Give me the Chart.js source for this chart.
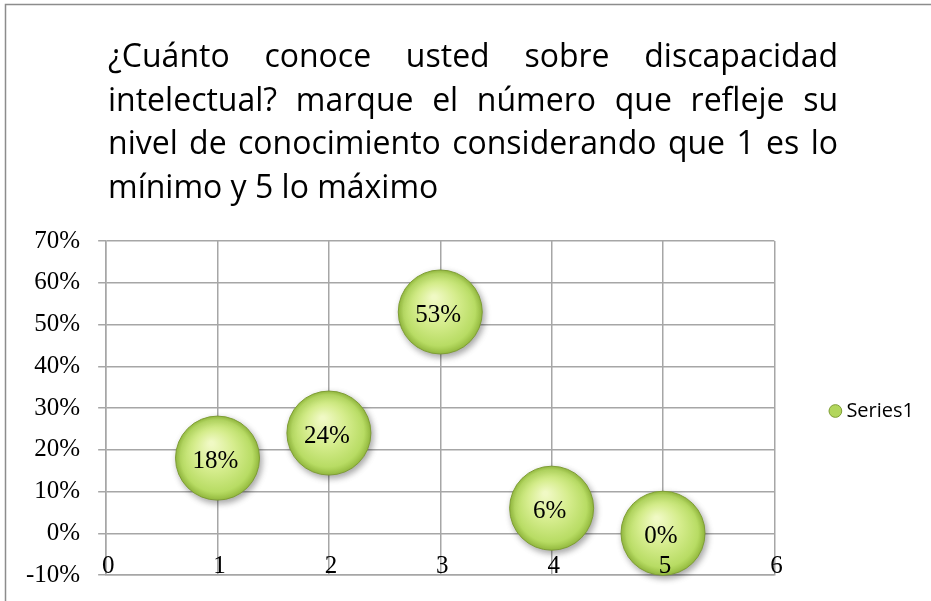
<!DOCTYPE html>
<html>
<head>
<meta charset="utf-8">
<script src="https://cdn.jsdelivr.net/npm/chart.js@4/dist/chart.umd.min.js"></script>
<style>
  html, body { margin: 0; padding: 0; background: #fff; }
  #wrap { width: 931px; height: 601px; }
</style>
</head>
<body>
<div id="wrap"><canvas id="chart" width="931" height="601"></canvas></div>
<script>
// chart data
var titleLines = [
    "¿Cuánto conoce usted sobre discapacidad",
    "intelectual? marque el número que refleje su",
    "nivel de conocimiento considerando que 1 es lo",
    "mínimo y 5 lo máximo"
];
var seriesName = "Series1";
var xValues = [1, 2, 3, 4, 5];
var yValues = [0.18, 0.24, 0.53, 0.06, 0.00];
var bubbleSizes = [1, 1, 1, 1, 1];
var pointLabels = ["18%", "24%", "53%", "6%", "0%"];
var xTicks = [0, 1, 2, 3, 4, 5, 6];
var yTicks = [-0.1, 0, 0.1, 0.2, 0.3, 0.4, 0.5, 0.6, 0.7];

var points = [];
for (let i = 0; i < xValues.length; i++) {
    points.push({ x: xValues[i], y: yValues[i], r: 42 * Math.sqrt(bubbleSizes[i]) });
}

function bubbleFill(context)
{
    var chart = context.chart;
    var raw = context.raw;
    if (!raw || !chart.scales.x || !chart.scales.y) return "#c4e274";
    var px = chart.scales.x.getPixelForValue(raw.x);
    var py = chart.scales.y.getPixelForValue(raw.y);
    var r = raw.r;
    if (!isFinite(px) || !isFinite(py) || !isFinite(r)) return "#c4e274";
    var g = chart.ctx.createRadialGradient(px - r * 0.15, py - r * 0.35, r * 0.05, px, py, r);
    g.addColorStop(0, "#f0f9c4");
    g.addColorStop(0.45, "#d6ed8e");
    g.addColorStop(0.85, "#b8dc64");
    g.addColorStop(1, "#96bd40");
    return g;
}

// white page with thin grey frame
var framePlugin = {
    id: "frame",
    beforeDraw(chart) {
        var ctx = chart.ctx;
        ctx.save();
        ctx.fillStyle = "#fff";
        ctx.fillRect(0, 0, chart.width, chart.height);
        ctx.strokeStyle = "#8c8c8c";
        ctx.lineWidth = 1.5;
        ctx.strokeRect(5.5, 4.5, 1000, 1000);
        ctx.restore();
    }
};

// justified title (Chart.js title cannot justify)
var titlePlugin = {
    id: "justTitle",
    afterDraw(chart) {
        var ctx = chart.ctx;
        var left = 108, right = 838, top = 67, lh = 43.5;
        ctx.save();
        ctx.font = "32px 'Open Sans'";
        ctx.fillStyle = "#000";
        ctx.textBaseline = "alphabetic";
        for (let i = 0; i < titleLines.length; i++) {
            var y = top + i * lh;
            var words = titleLines[i].split(" ");
            if (i == titleLines.length - 1 || words.length < 2) {
                ctx.textAlign = "left";
                ctx.fillText(titleLines[i], left, y);
                continue;
            }
            var total = 0;
            for (let w of words) total += ctx.measureText(w).width;
            var gap = (right - left - total) / (words.length - 1);
            var x = left;
            for (let w of words) {
                ctx.fillText(w, x, y);
                x += ctx.measureText(w).width + gap;
            }
        }
        ctx.restore();
    }
};

// x labels sit just above the bottom axis line, as in the original
var xLabelPlugin = {
    id: "xInsideLabels",
    afterDraw(chart) {
        var ctx = chart.ctx;
        var xs = chart.scales.x;
        var base = chart.chartArea.bottom - 2;
        ctx.save();
        ctx.font = "25px 'Liberation Serif'";
        ctx.fillStyle = "#000";
        ctx.textAlign = "center";
        ctx.textBaseline = "alphabetic";
        xTicks.forEach(function (v) {
            ctx.fillText(String(v), xs.getPixelForValue(v) + 2, base);
        });
        ctx.restore();
    }
};

var shadowPlugin = {
    id: "bubbleShadow",
    beforeDatasetDraw(chart) {
        var ctx = chart.ctx;
        ctx.save();
        ctx.shadowColor = "rgba(0,0,0,0.35)";
        ctx.shadowBlur = 6;
        ctx.shadowOffsetX = 2;
        ctx.shadowOffsetY = 3;
    },
    afterDatasetDraw(chart) {
        chart.ctx.restore();
    }
};

var labelPlugin = {
    id: "pointLabels",
    afterDatasetsDraw(chart) {
        var ctx = chart.ctx;
        var meta = chart.getDatasetMeta(0);
        ctx.save();
        ctx.font = "25px 'Liberation Serif'";
        ctx.fillStyle = "#000";
        ctx.textAlign = "center";
        ctx.textBaseline = "middle";
        meta.data.forEach(function (el, i) {
            ctx.fillText(pointLabels[i], el.x - 2, el.y + 3);
        });
        ctx.restore();
    }
};

const ctx = document.getElementById("chart").getContext("2d");
var chartId = new Chart(ctx, {
    type: "bubble",
    data: {
        datasets: [{
            label: seriesName,
            data: points,
            backgroundColor: bubbleFill,
            borderColor: "#7f9e35",
            borderWidth: 1,
            hoverRadius: 0,
            clip: false
        }]
    },
    options: {
        responsive: false,
        animation: false,
        layout: { autoPadding: false, padding: { top: 241, left: 8, right: 7, bottom: 20 } },
        scales: {
            x: {
                type: "linear",
                min: 0,
                max: 6,
                afterBuildTicks: function (axis) {
                    axis.ticks = xTicks.map(function (v) { return { value: v }; });
                },
                afterFit: function (axis) {
                    axis.height = 6;
                },
                grid: { color: "#a6a6a6", lineWidth: 1.5, drawTicks: false },
                border: { color: "#a6a6a6", width: 1.5 },
                ticks: { display: false }
            },
            y: {
                type: "linear",
                min: -0.1,
                max: 0.7,
                afterBuildTicks: function (axis) {
                    axis.ticks = yTicks.map(function (v) { return { value: v }; });
                },
                afterFit: function (axis) {
                    axis.paddingTop = 0;
                    axis.paddingBottom = 0;
                },
                grid: { color: "#a6a6a6", lineWidth: 1.5, tickLength: 8 },
                border: { color: "#a6a6a6", width: 1.5 },
                ticks: {
                    padding: 18,
                    color: "#000",
                    font: { family: "'Liberation Serif'", size: 25 },
                    callback: function (v) { return Math.round(v * 100) + "%"; }
                }
            }
        },
        plugins: {
            legend: {
                position: "right",
                labels: {
                    usePointStyle: true,
                    boxWidth: 2,
                    boxHeight: 9,
                    padding: 60,
                    color: "#000",
                    font: { family: "'Open Sans'", size: 20 },
                    generateLabels: function (chart) {
                        return [{
                            text: seriesName,
                            fillStyle: "#b2d65c",
                            strokeStyle: "#7f9e35",
                            lineWidth: 1,
                            pointStyle: "circle",
                            datasetIndex: 0
                        }];
                    }
                }
            },
            tooltip: { enabled: false }
        }
    },
    plugins: [framePlugin, shadowPlugin, labelPlugin, xLabelPlugin, titlePlugin]
});
</script>
</body>
</html>
